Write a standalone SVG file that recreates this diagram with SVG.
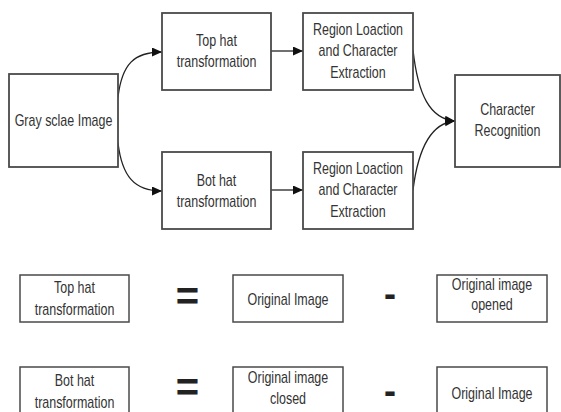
<svg xmlns="http://www.w3.org/2000/svg" width="561" height="412" viewBox="0 0 561 412">
<style>
.box{fill:#fff;stroke:#4a4a4a;stroke-width:1.8}
.box2{fill:#fff;stroke:#4a4a4a;stroke-width:1.5}
.t{font-family:"Liberation Sans",Arial,sans-serif;font-size:16px;fill:#333;text-anchor:middle}
.op{font-family:"Liberation Sans",Arial,sans-serif;font-weight:bold;fill:#222;text-anchor:middle}
.c{fill:none;stroke:#222;stroke-width:1.3}
</style>
<defs>
<marker id="ah" markerUnits="userSpaceOnUse" markerWidth="11" markerHeight="10" refX="10" refY="4.5" orient="auto">
<path d="M0,0 L10,4.5 L0,9 z" fill="#111"/>
</marker>
</defs>
<rect width="561" height="412" fill="#fff"/>
<g id="connectors">
<path class="c" d="M118,97 C122,64 134,52 162,52" marker-end="url(#ah)"/>
<path class="c" d="M118,143 C122,176 134,191 162,191" marker-end="url(#ah)"/>
<path class="c" d="M271,51 L303,51" marker-end="url(#ah)"/>
<path class="c" d="M271,190 L303,190" marker-end="url(#ah)"/>
<path class="c" d="M413,50 C418,95 430,119 455,121" marker-end="url(#ah)"/>
<path class="c" d="M413,190 C418,150 430,123 455,121" marker-end="url(#ah)"/>
</g>
<g id="gray">
<rect class="box" x="9" y="74" width="109" height="93"/>
<g transform="translate(63.5,0) scale(0.78,1)"><text class="t" x="0" y="126">Gray sclae Image</text></g>
</g>
<g id="tophat">
<rect class="box" x="162" y="13" width="109" height="77"/>
<g transform="translate(216.5,0) scale(0.78,1)"><text class="t" x="0" y="46">Top hat</text><text class="t" x="0" y="67">transformation</text></g>
</g>
<g id="bothat">
<rect class="box" x="162" y="152" width="109" height="77"/>
<g transform="translate(216.5,0) scale(0.78,1)"><text class="t" x="0" y="186">Bot  hat</text><text class="t" x="0" y="207">transformation</text></g>
</g>
<g id="region1">
<rect class="box" x="303" y="13" width="110" height="77"/>
<g transform="translate(358,0) scale(0.78,1)"><text class="t" x="0" y="35">Region  Loaction</text><text class="t" x="0" y="56.5">and Character</text><text class="t" x="0" y="78">Extraction</text></g>
</g>
<g id="region2">
<rect class="box" x="303" y="152" width="110" height="77"/>
<g transform="translate(358,0) scale(0.78,1)"><text class="t" x="0" y="174">Region  Loaction</text><text class="t" x="0" y="195.5">and Character</text><text class="t" x="0" y="217">Extraction</text></g>
</g>
<g id="charrec">
<rect class="box" x="455" y="75" width="105" height="92"/>
<g transform="translate(507.5,0) scale(0.78,1)"><text class="t" x="0" y="115">Character</text><text class="t" x="0" y="136">Recognition</text></g>
</g>
<g id="eq1-tophat">
<rect class="box2" x="20" y="275" width="109" height="47"/>
<g transform="translate(74.5,0) scale(0.78,1)"><text class="t" x="0" y="293">Top hat</text><text class="t" x="0" y="315">transformation</text></g>
</g>
<g id="eq1-equals"><text class="op" x="187.5" y="309.5" font-size="40">=</text></g>
<g id="eq1-orig">
<rect class="box2" x="233" y="275" width="110" height="47"/>
<g transform="translate(288,0) scale(0.78,1)"><text class="t" x="0" y="305">Original Image</text></g>
</g>
<g id="eq1-minus"><text class="op" x="390" y="306" font-size="36">-</text></g>
<g id="eq1-opened">
<rect class="box2" x="437" y="275" width="110" height="47"/>
<g transform="translate(492,0) scale(0.78,1)"><text class="t" x="0" y="290">Original image</text><text class="t" x="0" y="310">opened</text></g>
</g>
<g id="eq2-bothat">
<rect class="box2" x="20" y="367" width="109" height="47"/>
<g transform="translate(74.5,0) scale(0.78,1)"><text class="t" x="0" y="386">Bot hat</text><text class="t" x="0" y="408">transformation</text></g>
</g>
<g id="eq2-equals"><text class="op" x="187.5" y="400.5" font-size="40">=</text></g>
<g id="eq2-closed">
<rect class="box2" x="233" y="367" width="110" height="47"/>
<g transform="translate(288,0) scale(0.78,1)"><text class="t" x="0" y="383">Original image</text><text class="t" x="0" y="404">closed</text></g>
</g>
<g id="eq2-minus"><text class="op" x="390" y="402.5" font-size="36">-</text></g>
<g id="eq2-orig">
<rect class="box2" x="437" y="367" width="110" height="47"/>
<g transform="translate(492,0) scale(0.78,1)"><text class="t" x="0" y="399">Original Image</text></g>
</g>
</svg>
